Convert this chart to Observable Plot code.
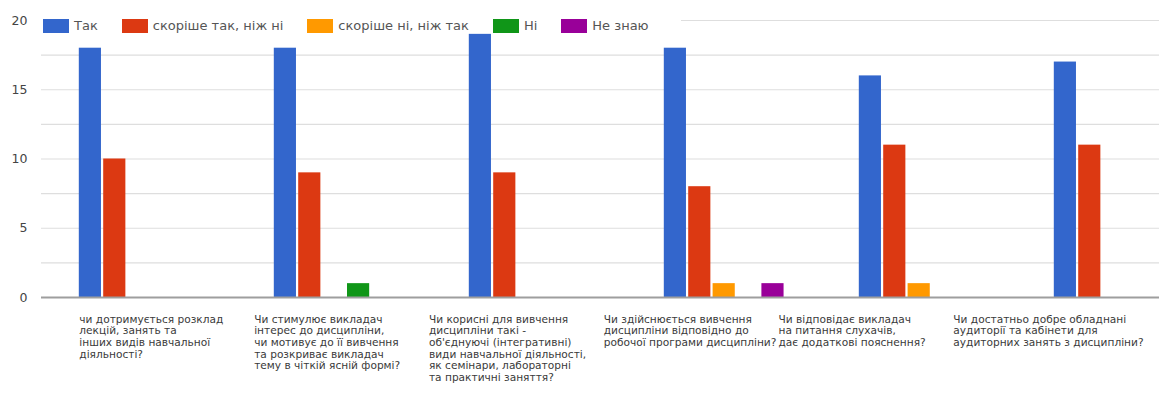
<!DOCTYPE html>
<html>
<head>
<meta charset="utf-8">
<script src="https://cdn.jsdelivr.net/npm/d3@7"></script>
<script src="https://cdn.jsdelivr.net/npm/@observablehq/plot@0.6"></script>
<style>
  html, body { margin: 0; padding: 0; background: #fff; overflow: hidden; }
  #wrap { position: relative; width: 1159px; height: 412px; }
  #legend {
    position: absolute; top: 18px; left: 40px;
    display: flex; align-items: center; background: #fff;
    padding: 0 8px 0 3px; height: 15px;
    font-family: "DejaVu Sans", sans-serif; font-size: 13px; color: #555;
  }
  .item { display: flex; align-items: center; margin-right: 24px; }
  .sw { width: 26px; height: 14px; margin-right: 5px; }
  svg { overflow: hidden; }
</style>
</head>
<body>
<div id="wrap"><div id="legend"></div></div>
<script>
const categories = [
  "чи дотримується розклад\nлекцій, занять та\nінших видів навчальної\nдіяльності?",
  "Чи стимулює викладач\nінтерес до дисципліни,\nчи мотивує до її вивчення\nта розкриває викладач\nтему в чіткій ясній формі?",
  "Чи корисні для вивчення\nдисципліни такі -\nоб'єднуючі (інтегративні)\nвиди навчальної діяльності,\nяк семінари, лабораторні\nта практичні заняття?",
  "Чи здійснюється вивчення\nдисципліни відповідно до\nробочої програми дисципліни?",
  "Чи відповідає викладач\nна питання слухачів,\nдає додаткові пояснення?",
  "Чи достатньо добре обладнані\nаудиторії та кабінети для\nаудиторних занять з дисципліни?"
];
const seriesNames = ["Так", "скоріше так, ніж ні", "скоріше ні, ніж так", "Ні", "Не знаю"];
const seriesColors = ["#3366cc", "#dc3912", "#ff9900", "#109618", "#990099"];
const tak         = [18, 18, 19, 18, 16, 17];
const skorisheTak = [10, 9, 9, 8, 11, 11];
const skorisheNi  = [0, 0, 0, 1, 1, 0];
const ni          = [0, 1, 0, 0, 0, 0];
const neZnayu     = [0, 0, 0, 1, 0, 0];
const yTicks = [0, 5, 10, 15, 20];
const gridTicks = [2.5, 5, 7.5, 10, 12.5, 15, 17.5, 20];

const seriesValues = [tak, skorisheTak, skorisheNi, ni, neZnayu];
const data = [];
seriesNames.forEach((s, j) => categories.forEach((c, i) => data.push({category: c, series: s, value: seriesValues[j][i]})));

// legend
const legend = document.getElementById("legend");
seriesNames.forEach((s, j) => {
  const it = document.createElement("div"); it.className = "item";
  const sw = document.createElement("div"); sw.className = "sw"; sw.style.background = seriesColors[j];
  const t = document.createElement("span"); t.textContent = s;
  it.appendChild(sw); it.appendChild(t); legend.appendChild(it);
});

const x0 = 41, x1 = 1213;
const band = (x1 - x0) / categories.length;
const outer = 36.8, slot = 24.4, barW = 22.5;

const chart = Plot.plot({
  width: 1159,
  height: 412,
  marginTop: 20,
  marginBottom: 115,
  marginLeft: 41,
  marginRight: 0,
  style: {fontFamily: "DejaVu Sans, sans-serif", background: "#fff", overflow: "hidden"},
  x: {domain: categories, range: [x0, x1], padding: 0, axis: null},
  y: {domain: [0, 20], axis: null},
  marks: [
    Plot.gridY(gridTicks, {stroke: "#dedede", strokeOpacity: 1, strokeWidth: 1.2}),
    ...seriesNames.map((s, j) => Plot.barY(data.filter(d => d.series === s), {
      x: "category", y: "value", fill: seriesColors[j],
      insetLeft: outer + slot * j,
      insetRight: band - (outer + slot * j) - barW
    })),
    Plot.ruleY([0], {stroke: "#9e9e9e", strokeWidth: 2}),
    Plot.axisY(yTicks, {tickSize: 0, tickPadding: 14, fontSize: 12.5, color: "#444", label: null}),
    ...categories.map((c, i) => Plot.text([c], {
      x: d => d, frameAnchor: "bottom", textAnchor: "start", lineAnchor: "top",
      dx: -band / 2 + 37 - 20.2 * i, dy: 17, fontSize: 10.6, lineHeight: 1.1, fill: "#3a3a3a"
    }))
  ]
});
document.getElementById("wrap").appendChild(chart);
</script>
</body>
</html>
